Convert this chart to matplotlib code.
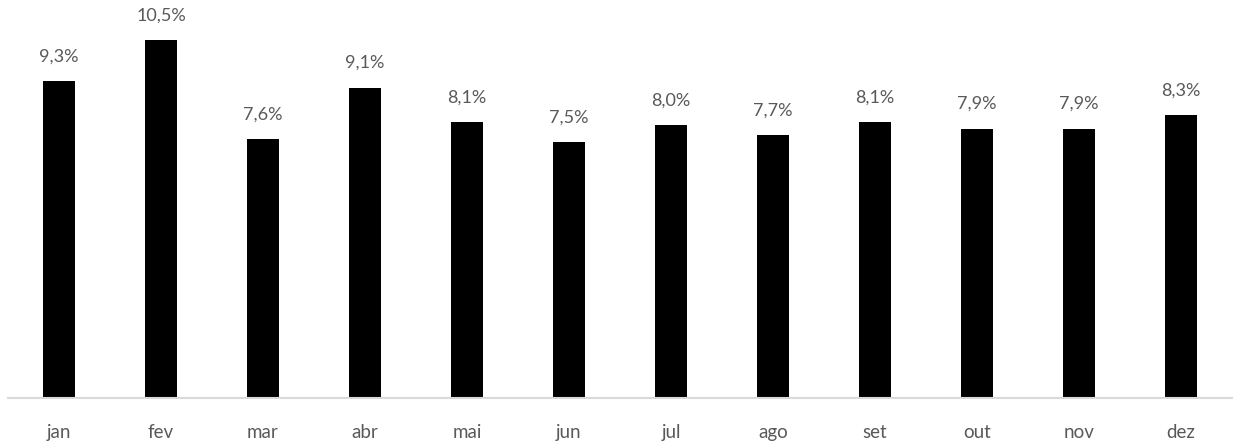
import matplotlib.pyplot as plt

months = ['jan', 'fev', 'mar', 'abr', 'mai', 'jun', 'jul', 'ago', 'set', 'out', 'nov', 'dez']
values = [9.3, 10.5, 7.6, 9.1, 8.1, 7.5, 8.0, 7.7, 8.1, 7.9, 7.9, 8.3]

plt.rcParams['font.family'] = ['Lato', 'DejaVu Sans']

fig = plt.figure(figsize=(12.33, 4.43), dpi=100)
ax = fig.add_axes([8 / 1233, 1 - 398 / 443, 1224 / 1233, 398 / 443])

x = range(len(months))
bars = ax.bar(x, values, width=0.31, color='black')
for xi, v in zip(x, values):
    ax.text(xi, v + 0.72, ('%.1f%%' % v).replace('.', ','), ha='center', va='center',
            fontsize=13, color='#595959')

ax.set_xlim(-0.5, 11.5)
ax.set_ylim(0, 11.67)
ax.set_xticks(list(x))
ax.set_xticklabels(months, fontsize=13.5, color='#595959')
ax.tick_params(axis='x', length=0, pad=19)
ax.set_yticks([])
for s in ['top', 'left', 'right']:
    ax.spines[s].set_visible(False)
ax.spines['bottom'].set_color('#d9d9d9')
ax.spines['bottom'].set_linewidth(1.5)

fig.savefig('out.png', dpi=100)
